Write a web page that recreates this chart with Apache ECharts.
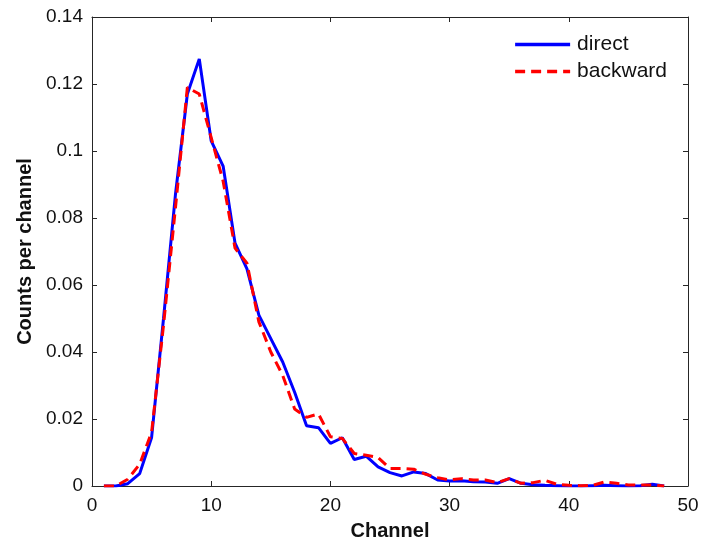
<!DOCTYPE html>
<html>
<head>
<meta charset="utf-8">
<script src="https://cdn.jsdelivr.net/npm/echarts@6/dist/echarts.min.js"></script>
<style>
html,body{margin:0;padding:0;background:#fff;}
#chart{width:702px;height:543px;}
</style>
</head>
<body>
<div id="chart"></div>
<script>
var channels = [1,2,3,4,5,6,7,8,9,10,11,12,13,14,15,16,17,18,19,20,21,22,23,24,25,26,27,28,29,30,31,32,33,34,35,36,37,38,39,40,41,42,43,44,45,46,47,48];
var direct = [0,0,0.0007,0.0037,0.0145,0.050,0.087,0.117,0.1275,0.103,0.0955,0.0725,0.0648,0.051,0.044,0.037,0.028,0.018,0.0174,0.0127,0.0144,0.0079,0.0089,0.0057,0.004,0.003,0.0042,0.0037,0.0018,0.0015,0.0016,0.0013,0.0012,0.0008,0.0022,0.0008,0.0004,0.0002,0.0001,0,0,0.0001,0.0002,0.0001,0,0.0001,0.0005,0];
var backward = [0,0,0.002,0.0065,0.016,0.048,0.083,0.119,0.117,0.104,0.091,0.071,0.0665,0.049,0.040,0.033,0.023,0.0205,0.0215,0.0147,0.0142,0.0097,0.0092,0.0085,0.0052,0.0052,0.005,0.0035,0.0025,0.0018,0.0022,0.0018,0.0018,0.001,0.0022,0.0008,0.001,0.0017,0.0005,0.0002,0.0001,0.0002,0.0012,0.0008,0.0003,0.0003,0.0003,0];
var seriesNames = ['direct','backward'];
var xTicks = {min:0, max:50, interval:10};
var yTicks = {min:0, max:0.14, interval:0.02};

function pairs(xs, ys){ return xs.map(function(x,i){ return [x, ys[i]]; }); }

var font = 'Liberation Sans, Arial, Helvetica, sans-serif';
var axisColor = '#262626';
var chart = echarts.init(document.getElementById('chart'));
function axisLine(){ return {show:true, onZero:false, lineStyle:{color:axisColor, width:1}}; }
function tickIn(){ return {show:true, inside:true, length:5, lineStyle:{color:axisColor}}; }
chart.setOption({
  animation:false,
  backgroundColor:'#fff',
  grid:{left:92, right:14, top:17, bottom:57, containLabel:false, outerBoundsMode:'none'},
  legend:{
    data:seriesNames, orient:'vertical', right:30, top:29,
    itemWidth:55, itemHeight:14, itemGap:6,
    itemStyle:{opacity:0},
    lineStyle:{width:3.5},
    textStyle:{fontFamily:font, fontSize:21, color:'#111', padding:[0,0,0,2]}
  },
  xAxis:[{
    type:'value', min:xTicks.min, max:xTicks.max, interval:xTicks.interval,
    name:'Channel', nameLocation:'middle', nameGap:35,
    nameTextStyle:{fontFamily:font, fontSize:20, fontWeight:'bold', color:'#111'},
    axisLine:axisLine(), axisTick:tickIn(),
    axisLabel:{fontFamily:font, fontSize:19, color:'#111', margin:10},
    splitLine:{show:false}
  },{
    type:'value', position:'top', min:xTicks.min, max:xTicks.max, interval:xTicks.interval,
    axisLine:axisLine(), axisTick:tickIn(), axisLabel:{show:false}, splitLine:{show:false}
  }],
  yAxis:[{
    type:'value', min:yTicks.min, max:yTicks.max, interval:yTicks.interval,
    name:'Counts per channel', nameLocation:'middle', nameGap:54, nameRotate:90,
    nameTextStyle:{fontFamily:font, fontSize:20, fontWeight:'bold', color:'#111'},
    axisLine:axisLine(), axisTick:tickIn(),
    axisLabel:{fontFamily:font, fontSize:19, color:'#111', margin:9,
      formatter:function(v){ return String(Math.round(v*100)/100); }},
    splitLine:{show:false}
  },{
    type:'value', position:'right', min:yTicks.min, max:yTicks.max, interval:yTicks.interval,
    axisLine:axisLine(), axisTick:tickIn(), axisLabel:{show:false}, splitLine:{show:false}
  }],
  series:[{
    name:seriesNames[0], type:'line', data:pairs(channels, direct),
    showSymbol:false, symbol:'none', color:'#0000ff',
    lineStyle:{color:'#0000ff', width:3}, z:2
  },{
    name:seriesNames[1], type:'line', data:pairs(channels, backward),
    showSymbol:false, symbol:'none', color:'#ff0000',
    lineStyle:{color:'#ff0000', width:3, type:[10,6]}, z:3
  }]
});
</script>
</body>
</html>
